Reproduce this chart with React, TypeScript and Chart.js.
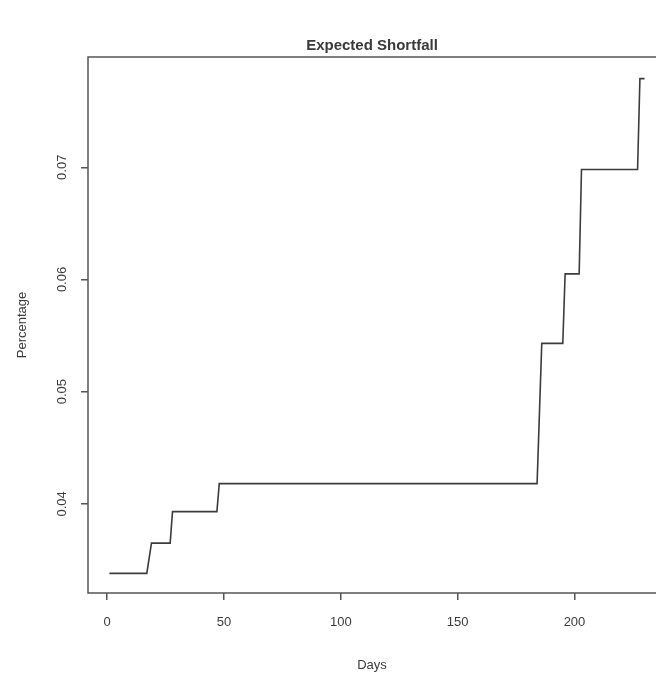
import React, { useEffect, useRef } from "react";
import { Chart, registerables } from "chart.js";

Chart.register(...registerables);

// Step points of the expected shortfall curve (day, value)
const days = [1, 17, 19, 27, 28, 47, 48, 184, 186, 195, 196, 202, 203, 227, 228, 230];
const shortfall = [
  0.0338, 0.0338, 0.0365, 0.0365, 0.0393, 0.0393, 0.0418, 0.0418,
  0.0543, 0.0543, 0.0605, 0.0605, 0.0698, 0.0698, 0.0779, 0.0779,
];
const xTicks = [0, 50, 100, 150, 200];
const yTicks = [0.04, 0.05, 0.06, 0.07];
const yTickLabels = ["0.04", "0.05", "0.06", "0.07"];
const titleText = "Expected Shortfall";
const xTitle = "Days";
const yTitle = "Percentage";

const W = 680;
const H = 679;
const FONT = "'Liberation Sans', Arial, sans-serif";
const TEXT = "#3a3a3a";
const FRAME = "#555555";

export default function App() {
  const ref = useRef<HTMLCanvasElement | null>(null);

  useEffect(() => {
    if (!ref.current) return;
    const decor = {
      id: "rdecor",
      afterDraw(chart: any) {
        const { ctx, chartArea, scales } = chart;
        ctx.save();
        ctx.strokeStyle = FRAME;
        ctx.lineWidth = 1.5;
        ctx.strokeRect(chartArea.left, chartArea.top, chartArea.right - chartArea.left, chartArea.bottom - chartArea.top);
        ctx.fillStyle = TEXT;
        // title
        ctx.font = `bold 15px ${FONT}`;
        ctx.textAlign = "center";
        ctx.textBaseline = "middle";
        ctx.fillText(titleText, 372, 46);
        // x title
        ctx.font = `13px ${FONT}`;
        ctx.fillText(xTitle, (chartArea.left + 666) / 2 - 5, 665);
        // y tick labels (rotated)
        const ys = scales.y;
        yTicks.forEach((v, i) => {
          const py = ys.getPixelForValue(v);
          ctx.save();
          ctx.translate(62, py);
          ctx.rotate(-Math.PI / 2);
          ctx.textAlign = "center";
          ctx.textBaseline = "middle";
          ctx.fillText(yTickLabels[i], 0, 0);
          ctx.restore();
        });
        // y title
        ctx.save();
        ctx.translate(22, (chartArea.top + chartArea.bottom) / 2);
        ctx.rotate(-Math.PI / 2);
        ctx.textAlign = "center";
        ctx.textBaseline = "middle";
        ctx.fillText(yTitle, 0, 0);
        ctx.restore();
        ctx.restore();
      },
    };

    const chart = new Chart(ref.current, {
      type: "line",
      data: {
        datasets: [
          {
            data: days.map((d, i) => ({ x: d, y: shortfall[i] })),
            borderColor: "#3c3c3c",
            borderWidth: 1.6,
            pointRadius: 0,
            fill: false,
            tension: 0,
          },
        ],
      },
      options: {
        animation: false,
        responsive: false,
        events: [],
        layout: { padding: { top: 57, right: W - 666, left: 0, bottom: 0 } },
        plugins: { legend: { display: false }, tooltip: { enabled: false }, title: { display: false } },
        scales: {
          x: {
            type: "linear",
            min: -8.16,
            max: 239.16,
            afterFit: (s: any) => {
              s.height = H - 593;
            },
            afterBuildTicks: (s: any) => {
              s.ticks = xTicks.map((v) => ({ value: v }));
            },
            border: { display: false },
            grid: { display: true, drawOnChartArea: false, drawTicks: true, tickLength: 7, color: FRAME, lineWidth: 1.5 },
            ticks: {
              padding: 15,
              color: TEXT,
              font: { family: FONT, size: 13 },
              maxRotation: 0,
              minRotation: 0,
              callback: (v: any) => String(v),
            },
          },
          y: {
            type: "linear",
            min: 0.03205,
            max: 0.07983,
            afterFit: (s: any) => {
              s.width = 88;
            },
            afterBuildTicks: (s: any) => {
              s.ticks = yTicks.map((v) => ({ value: v }));
            },
            border: { display: false },
            grid: { display: true, drawOnChartArea: false, drawTicks: true, tickLength: 7, color: FRAME, lineWidth: 1.5 },
            ticks: { display: false },
          },
        },
      },
      plugins: [decor],
    });
    return () => chart.destroy();
  }, []);

  return (
    <div style={{ position: "fixed", left: 0, top: 0, width: 656, height: 679, overflow: "hidden", background: "#fff" }}>
      <canvas ref={ref} width={W} height={H} style={{ display: "block", width: W, height: H }} />
    </div>
  );
}
